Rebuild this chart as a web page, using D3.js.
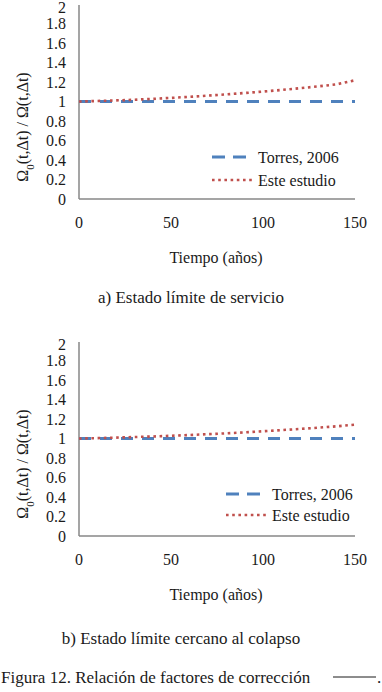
<!DOCTYPE html>
<html>
<head>
<meta charset="utf-8">
<script src="https://cdn.jsdelivr.net/npm/d3@7"></script>
<style>
    body { margin: 0; background: #fff; }
    svg text { font-family: "Times New Roman", Times, "Liberation Serif", "DejaVu Serif", serif; fill: #1a1a1a; }
</style>
</head>
<body>
<svg id="fig" width="382" height="692"></svg>
<script>
/* data */
const years = [0, 10, 20, 30, 40, 50, 60, 70, 80, 90, 100, 110, 120, 130, 140, 150];
const torresA = [1, 1, 1, 1, 1, 1, 1, 1, 1, 1, 1, 1, 1, 1, 1, 1];
const esteA = [1, 1.005, 1.011, 1.018, 1.027, 1.037, 1.048, 1.06, 1.073, 1.087, 1.102, 1.118, 1.136, 1.155, 1.176, 1.218];
const torresB = [1, 1, 1, 1, 1, 1, 1, 1, 1, 1, 1, 1, 1, 1, 1, 1];
const esteB = [1, 1.004, 1.009, 1.015, 1.021, 1.028, 1.036, 1.044, 1.053, 1.063, 1.074, 1.086, 1.098, 1.111, 1.125, 1.142];
const yTicks = [0, 0.2, 0.4, 0.6, 0.8, 1, 1.2, 1.4, 1.6, 1.8, 2];
const xTicks = [0, 50, 100, 150];
const seriesNames = ["Torres, 2006", "Este estudio"];

const blue = "#4f81bd";
const red = "#c0504d";
const svg = d3.select("#fig");

function panel(cfg) {
    const g = svg.append("g");
    const x = d3.scaleLinear().domain([0, 150]).range([79, 355]);
    const y = d3.scaleLinear().domain([0, 2]).range([cfg.bottom, cfg.bottom - 195]);

    // axis lines only, no tick marks
    g.append("line")
        .attr("x1", x(0)).attr("x2", x(150))
        .attr("y1", y(0)).attr("y2", y(0))
        .attr("stroke", "#878787").attr("stroke-width", 1.5);
    g.append("line")
        .attr("x1", x(0)).attr("x2", x(0))
        .attr("y1", y(0)).attr("y2", y(2) + 1)
        .attr("stroke", "#878787").attr("stroke-width", 1.5);

    g.selectAll(".ytick").data(yTicks).join("text")
        .attr("x", 66).attr("y", d => y(d) + (d === 2 ? 3 : 0))
        .attr("dy", "0.35em")
        .attr("text-anchor", "end")
        .style("font-size", "16px")
        .text(d => d3.format("")(d));

    g.selectAll(".xtick").data(xTicks).join("text")
        .attr("x", d => x(d)).attr("y", y(0) + 23)
        .attr("dy", "0.35em")
        .attr("text-anchor", "middle")
        .style("font-size", "16px")
        .text(d => d);

    g.append("text")
        .attr("x", 216).attr("y", y(0) + 58)
        .attr("dy", "0.35em")
        .attr("text-anchor", "middle")
        .style("font-size", "16px")
        .text("Tiempo (años)");

    const yl = g.append("text")
        .attr("transform", `translate(22,${y(0) - 72}) rotate(-90)`)
        .attr("dy", "0.35em")
        .attr("text-anchor", "middle")
        .style("font-size", "16px");
    yl.append("tspan").text("Ω");
    yl.append("tspan").attr("baseline-shift", "sub").style("font-size", "11px").text("0");
    yl.append("tspan").text("(t,Δt) / Ω(t,Δt)");

    const line = d3.line().x((d, i) => x(years[i])).y(d => y(d));

    g.append("path").datum(cfg.torres)
        .attr("d", line)
        .attr("fill", "none").attr("stroke", blue)
        .attr("stroke-width", 3).attr("stroke-dasharray", "12,9");
    g.append("path").datum(cfg.este)
        .attr("d", line)
        .attr("fill", "none").attr("stroke", red)
        .attr("stroke-width", 2.6).attr("stroke-dasharray", "2.6,3.6");

    // legend
    const lg = g.append("g").attr("transform", `translate(${cfg.legX},${cfg.legY})`);
    const styles = [
        {stroke: blue, w: 3, dash: "13,8"},
        {stroke: red, w: 2.6, dash: "2.6,3.6"}
    ];
    seriesNames.forEach((name, i) => {
        const row = lg.append("g").attr("transform", `translate(0,${i * cfg.legGap})`);
        row.append("line")
            .attr("x1", 0).attr("x2", 42)
            .attr("stroke", styles[i].stroke)
            .attr("stroke-width", styles[i].w)
            .attr("stroke-dasharray", styles[i].dash);
        row.append("text")
            .attr("x", 46).attr("dy", "0.35em")
            .style("font-size", "16px")
            .text(name);
    });

    svg.append("text")
        .attr("x", cfg.capX).attr("y", cfg.capY)
        .attr("dy", "0.35em")
        .attr("text-anchor", "middle")
        .style("font-size", "17px")
        .text(cfg.caption);
}

panel({
    torres: torresA, este: esteA, bottom: 199,
    legX: 212, legY: 157, legGap: 23,
    caption: "a) Estado límite de servicio", capX: 191, capY: 297
});
panel({
    torres: torresB, este: esteB, bottom: 536,
    legX: 226, legY: 494, legGap: 21,
    caption: "b) Estado límite cercano al colapso", capX: 181, capY: 638
});

svg.append("text")
    .attr("x", 1).attr("y", 677)
    .attr("dy", "0.35em")
    .style("font-size", "17px")
    .text("Figura 12. Relación de factores de corrección");
svg.append("line")
    .attr("x1", 333).attr("x2", 376)
    .attr("y1", 677).attr("y2", 677)
    .attr("stroke", "#1a1a1a").attr("stroke-width", 1);
svg.append("text")
    .attr("x", 377).attr("y", 677)
    .attr("dy", "0.35em")
    .style("font-size", "17px")
    .text(".");
</script>
</body>
</html>
